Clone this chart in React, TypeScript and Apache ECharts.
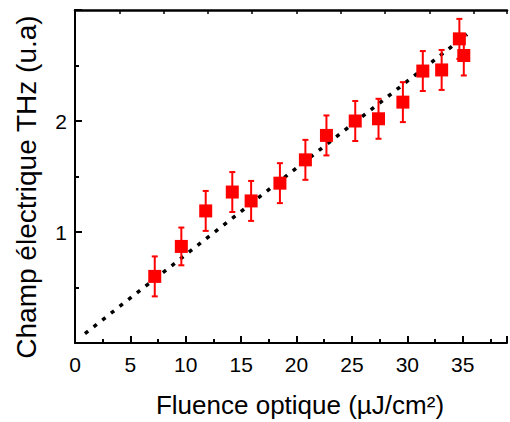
import React, { useEffect, useRef } from "react";
import * as echarts from "echarts";

const fluence = [7.2, 9.6, 11.8, 14.2, 15.9, 18.5, 20.8, 22.7, 25.3, 27.4, 29.6, 31.4, 33.1, 34.7, 35.1];
const champ = [0.6, 0.87, 1.19, 1.36, 1.28, 1.44, 1.65, 1.87, 2.0, 2.02, 2.17, 2.45, 2.46, 2.74, 2.59];
const errors = [0.18, 0.17, 0.18, 0.18, 0.18, 0.18, 0.18, 0.18, 0.18, 0.18, 0.18, 0.18, 0.18, 0.18, 0.18];
const fitX = [0.9, 35.4];
const fitY = [0.085, 2.78];
const xTickLabels = ["0", "5", "10", "15", "20", "25", "30", "35"];
const yTickLabels = ["1", "2"];

export default function App() {
  const ref = useRef<HTMLDivElement>(null);
  useEffect(() => {
    if (!ref.current) return;
    const chart = echarts.init(ref.current, null, { renderer: "svg" });
    const font = "'Liberation Sans', Arial, Helvetica, sans-serif";
    const pts = fluence.map((x, i) => [x, champ[i]]);
    const errData = fluence.map((x, i) => [x, champ[i] - errors[i], champ[i] + errors[i]]);
    const fitData = fitX.map((x, i) => [x, fitY[i]]);
    chart.setOption({
      animation: false,
      grid: { left: 75, top: 10, right: 1, bottom: 79, containLabel: false },
      xAxis: [
        {
          type: "value",
          min: 0,
          max: 39,
          interval: 5,
          axisLine: { show: true, onZero: false, lineStyle: { color: "#000", width: 2 } },
          axisTick: { show: true, inside: true, length: 7, lineStyle: { color: "#000", width: 2 } },
          minorTick: { show: true, splitNumber: 2, length: 4, lineStyle: { color: "#000", width: 2 } },
          axisLabel: {
            color: "#000",
            fontSize: 21,
            fontFamily: font,
            margin: 11,
            formatter: (v: number) => (xTickLabels.includes(String(v)) ? String(v) : ""),
          },
          splitLine: { show: false },
        },
        {
          type: "value",
          position: "top",
          min: 0,
          max: 39,
          interval: 4,
          axisLine: { show: true, onZero: false, lineStyle: { color: "#000", width: 2.5 } },
          axisTick: { show: true, inside: true, length: 4, lineStyle: { color: "#000", width: 1.5 } },
          axisLabel: { show: false },
          splitLine: { show: false },
        },
      ],
      yAxis: {
        type: "value",
        min: 0,
        max: 3,
        interval: 1,
        axisLine: { show: true, onZero: false, lineStyle: { color: "#000", width: 2 } },
        axisTick: { show: true, inside: true, length: 7, lineStyle: { color: "#000", width: 2 } },
        minorTick: { show: true, splitNumber: 2, length: 4, lineStyle: { color: "#000", width: 2 } },
        axisLabel: {
          color: "#000",
          fontSize: 21,
          fontFamily: font,
          margin: 8,
          formatter: (v: number) => (yTickLabels.includes(String(v)) ? String(v) : ""),
        },
        splitLine: { show: false },
      },
      graphic: [
        {
          type: "text",
          x: 300,
          y: 405,
          style: {
            text: "Fluence optique (µJ/cm²)",
            fontSize: 26,
            fontFamily: font,
            fill: "#000",
            align: "center",
            verticalAlign: "middle",
          },
        },
        {
          type: "text",
          x: 26,
          y: 187,
          rotation: Math.PI / 2,
          style: {
            text: "Champ électrique THz (u.a)",
            fontSize: 28,
            fontFamily: font,
            fill: "#000",
            align: "center",
            verticalAlign: "middle",
          },
        },
      ],
      series: [
        {
          type: "line",
          data: fitData,
          showSymbol: false,
          symbol: "none",
          lineStyle: { color: "#000", width: 3.5, type: [4, 7] },
          z: 3,
        },
        {
          type: "custom",
          data: errData,
          renderItem: (params: any, api: any) => {
            const x = api.value(0);
            const lo = api.coord([x, api.value(1)]);
            const hi = api.coord([x, api.value(2)]);
            const cap = 3;
            const st = { stroke: "#ff0000", lineWidth: 2 };
            return {
              type: "group",
              children: [
                { type: "line", shape: { x1: lo[0], y1: lo[1], x2: hi[0], y2: hi[1] }, style: st },
                { type: "line", shape: { x1: lo[0] - cap, y1: lo[1], x2: lo[0] + cap, y2: lo[1] }, style: st },
                { type: "line", shape: { x1: hi[0] - cap, y1: hi[1], x2: hi[0] + cap, y2: hi[1] }, style: st },
              ],
            };
          },
          z: 4,
        },
        {
          type: "scatter",
          data: pts,
          symbol: "rect",
          symbolSize: 13,
          itemStyle: { color: "#ff0000", opacity: 1 },
          z: 5,
        },
      ],
    });
    return () => chart.dispose();
  }, []);
  return (
    <div
      ref={ref}
      style={{ position: "fixed", left: 0, top: 0, width: 510, height: 422, background: "#fff" }}
    />
  );
}
